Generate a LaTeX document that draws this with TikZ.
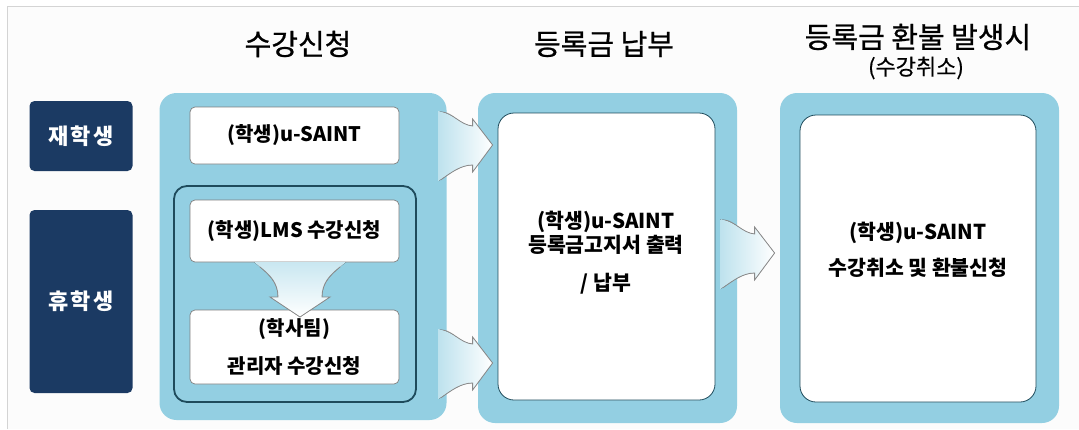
\documentclass[tikz,border=0pt]{standalone}
\usepackage{fontspec}
\setmainfont{Noto Sans CJK KR}
\usetikzlibrary{positioning}

\definecolor{navy}{HTML}{1B3A63}
\definecolor{panelblue}{HTML}{93CFE2}
\definecolor{frameteal}{HTML}{1E4B5C}
\definecolor{cardgray}{HTML}{7F7F7F}
\definecolor{arrowgray}{HTML}{8A8A8A}
\definecolor{framegray}{HTML}{D4D4D4}
\definecolor{bggray}{HTML}{FCFCFC}

% open block arrow, tip at #1
\newcommand{\flowarrow}[1]{%
  \begin{scope}[shift={(#1)}]
    \fill[left color=panelblue!60, right color=white]
      (-54,-34) .. controls (-40,-32) and (-32,-20) .. (-20,-19) -- (-20,-26) -- (0,0)
      -- (-20,27) -- (-20,20) .. controls (-32,20) and (-42,28) .. (-54,36) -- cycle;
    \draw[arrowgray, line width=0.8pt, line join=miter]
      (-50,-33) .. controls (-40,-32) and (-32,-20) .. (-20,-19) -- (-20,-26) -- (0,0)
      -- (-20,27) -- (-20,20) .. controls (-32,20) and (-42,28) .. (-52,35);
  \end{scope}}

\begin{document}
\begin{tikzpicture}[x=1pt, y=-1pt,
    label/.style={rectangle, fill=navy, text=white, rounded corners=5pt, minimum width=103pt, inner sep=0pt, font=\fontsize{22}{26}\selectfont\bfseries},
    panel/.style={rectangle, fill=panelblue, rounded corners=17pt, inner sep=0pt},
    card/.style={rectangle, draw=cardgray, fill=white, line width=0.7pt, rounded corners=5pt, minimum width=209pt, inner sep=0pt, align=center, font=\fontsize{20}{24}\selectfont\bfseries},
    bigcard/.style={rectangle, draw=frameteal, fill=white, line width=0.8pt, rounded corners=16pt, inner sep=0pt},
    title/.style={font=\fontsize{29}{33}\selectfont\addfontfeatures{FakeBold=0.8}},
    cardtext/.style={align=center, font=\fontsize{20.5}{24}\selectfont\bfseries}]

\useasboundingbox (0,0) rectangle (1079,429);
\fill[white] (0,0) rectangle (1079,429);
\fill[bggray] (7,6) rectangle (1079,429);
\draw[framegray, line width=1pt] (7,429) -- (7,6) -- (1079,6);

% Titles
\node[title] (enroltitle) at (298,44) {수강신청};
\node[title] (paytitle) at (604,44) {등록금 납부};
\node[title] (refundtitle) at (918,37) {등록금 환불 발생시};
\node[font=\fontsize{22}{26}\selectfont\addfontfeatures{FakeBold=0.5}] (refundsub) at (916,68) {(수강취소)};

% Student groups
\node[label, minimum height=70pt] (current) at (81,136) {재\hspace{2pt}학\hspace{2pt}생};
\node[label, minimum height=183pt] (leave) at (81,301.5) {휴\hspace{2pt}학\hspace{2pt}생};

% Panels
\node[panel, minimum width=287pt, minimum height=327pt] (enrol) at (303,256.5) {};
\node[panel, minimum width=259pt, minimum height=330pt] (pay) at (607.5,258) {};
\node[panel, minimum width=279pt, minimum height=330pt] (refund) at (919.5,258) {};

% Enrolment boxes
\node[card, minimum height=57pt] (usaint) at (294.5,135.5) {(학생)u-SAINT};
\node[rectangle, draw=frameteal, line width=1.8pt, rounded corners=13pt, minimum width=242pt, minimum height=216pt] (leaveframe) at (295,294) {};
\node[card, minimum height=62pt] (lms) at (294.5,231) {(학생)LMS 수강신청};
\node[card, minimum height=74pt] (admin) at (294.5,347) {(학사팀)\\[14pt]관리자 수강신청};

% Payment and refund cards
\node[bigcard, minimum width=217pt, minimum height=287pt] (paycard) at (606.5,256.5) {};
\node[bigcard, minimum width=236pt, minimum height=287pt] (refundcard) at (918,258.5) {};
\node[cardtext] at (606,253) {(학생)u-SAINT\\[0pt]등록금고지서 출력\\[14pt]/ 납부};
\node[cardtext] at (918,250) {(학생)u-SAINT\\[12pt]수강취소 및 환불신청};

% Arrows
\coordinate (tipcur) at ([xshift=-5pt]paycard.west |- 0,145);
\coordinate (tipleave) at ([xshift=-5pt]paycard.west |- 0,363);
\coordinate (tippay) at ([xshift=-25pt]refundcard.west |- 0,253);
\flowarrow{tipcur}
\flowarrow{tipleave}
\flowarrow{tippay}

\coordinate (tipdown) at (300,317);
\begin{scope}[shift={(tipdown)}]
  \fill[top color=panelblue!50, bottom color=white]
    (-46,-55) .. controls (-34,-45) and (-22,-36) .. (-22,-20) -- (-30,-20) -- (0,0)
    -- (30,-20) -- (22,-20) .. controls (22,-36) and (34,-45) .. (46,-55) -- cycle;
  \draw[arrowgray, line width=0.8pt]
    (-40,-50) .. controls (-30,-42) and (-22,-34) .. (-22,-20) -- (-30,-20) -- (0,0)
    -- (30,-20) -- (22,-20) .. controls (22,-34) and (30,-42) .. (40,-50);
\end{scope}

\end{tikzpicture}
\end{document}
